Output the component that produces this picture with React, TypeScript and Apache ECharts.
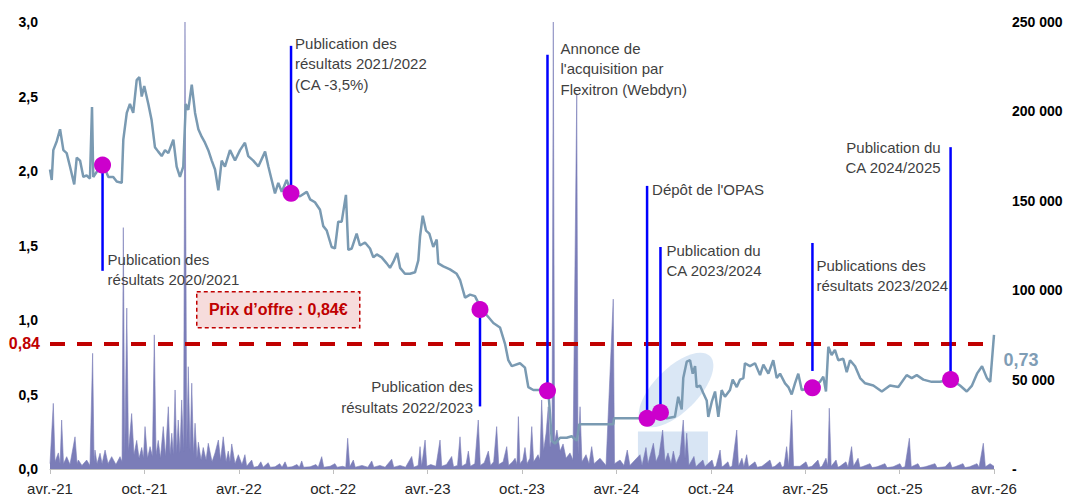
import React, { useEffect, useRef } from 'react';
import * as echarts from 'echarts';

// x values are months elapsed since avr.-21
const xTickLabels = ['avr.-21', 'oct.-21', 'avr.-22', 'oct.-22', 'avr.-23', 'oct.-23', 'avr.-24', 'oct.-24', 'avr.-25', 'oct.-25', 'avr.-26'];

const pricePoints: [number, number][] = [
  [0.00, 2.01], [0.11, 1.94], [0.21, 2.14], [0.43, 2.20], [0.64, 2.28], [0.85, 2.14], [1.06, 2.12], [1.27, 2.03],
  [1.54, 1.91], [1.70, 2.09], [1.91, 2.07], [2.12, 1.96], [2.33, 1.97], [2.54, 1.95], [2.67, 2.43], [2.75, 1.96],
  [3.07, 2.01], [3.39, 2.04], [3.71, 1.96], [4.02, 1.96], [4.24, 1.93], [4.56, 1.92], [4.66, 2.21], [4.88, 2.39],
  [5.08, 2.45], [5.29, 2.39], [5.51, 2.61], [5.68, 2.63], [5.83, 2.50], [5.99, 2.57], [6.25, 2.45], [6.46, 2.34],
  [6.67, 2.16], [6.88, 2.13], [7.10, 2.10], [7.31, 2.14], [7.52, 2.12], [7.84, 2.21], [8.05, 2.03], [8.26, 1.96],
  [8.47, 2.03], [8.63, 2.45], [8.79, 2.41], [9.01, 2.58], [9.22, 2.39], [9.43, 2.28], [9.64, 2.23], [9.85, 2.19],
  [10.06, 2.14], [10.28, 2.07], [10.49, 2.01], [10.70, 1.87], [10.91, 2.07], [11.12, 2.03], [11.44, 2.14], [11.76, 2.07],
  [12.08, 2.14], [12.39, 2.19], [12.60, 2.10], [12.92, 2.07], [13.24, 2.03], [13.67, 2.13], [13.88, 2.03], [14.09, 1.94],
  [14.30, 1.85], [14.51, 1.92], [14.73, 1.86], [15.04, 1.94], [15.36, 1.85],
  [15.89, 1.83], [16.32, 1.86], [16.53, 1.81], [16.84, 1.79], [17.16, 1.74], [17.37, 1.63], [17.59, 1.60], [17.90, 1.49],
  [18.11, 1.48], [18.32, 1.66], [18.54, 1.66], [18.81, 1.84], [18.96, 1.47], [19.18, 1.48], [19.49, 1.58], [19.70, 1.50],
  [20.02, 1.52], [20.34, 1.48], [20.55, 1.42], [20.77, 1.44], [21.08, 1.42], [21.40, 1.38], [21.61, 1.35], [21.82, 1.39],
  [22.07, 1.45], [22.25, 1.35], [22.56, 1.31], [22.88, 1.31], [23.20, 1.32], [23.41, 1.40], [23.52, 1.56], [23.69, 1.70],
  [23.90, 1.60], [24.11, 1.58], [24.36, 1.49], [24.58, 1.54], [24.68, 1.38], [25.00, 1.36], [25.42, 1.34], [25.85, 1.31],
  [26.06, 1.27], [26.38, 1.15], [26.70, 1.17], [27.01, 1.16], [27.44, 1.07], [27.86, 1.02], [28.18, 0.98], [28.60, 0.95],
  [28.92, 0.84], [29.13, 0.73], [29.35, 0.69], [29.87, 0.71], [30.19, 0.68], [30.40, 0.55], [30.72, 0.53], [31.14, 0.53],
  [31.67, 0.53],
  [31.78, 0.37], [31.89, 0.19], [32.10, 0.17], [32.42, 0.21], [32.84, 0.21], [33.16, 0.22], [33.48, 0.19], [33.64, 0.30],
  [34.64, 0.30], [35.80, 0.30], [35.85, 0.34], [36.67, 0.34], [37.50, 0.34], [37.96, 0.335], [38.33, 0.345], [38.77, 0.36],
  [39.20, 0.34], [39.72, 0.35], [39.93, 0.485], [40.15, 0.40], [40.25, 0.61], [40.47, 0.72], [40.68, 0.73], [40.85, 0.64],
  [41.00, 0.69], [41.10, 0.55], [41.31, 0.56], [41.52, 0.51], [41.74, 0.46], [41.84, 0.35], [42.06, 0.45], [42.27, 0.52],
  [42.48, 0.35], [42.69, 0.53], [42.90, 0.485], [43.22, 0.53], [43.39, 0.60], [43.65, 0.55], [43.86, 0.60], [44.07, 0.61],
  [44.17, 0.71], [44.49, 0.69], [44.81, 0.71], [45.13, 0.63], [45.34, 0.70], [45.66, 0.64], [45.97, 0.73], [46.19, 0.61],
  [46.40, 0.64], [46.72, 0.575], [46.93, 0.55], [47.14, 0.50], [47.35, 0.575], [47.56, 0.64], [47.78, 0.53], [48.48, 0.545],
  [48.94, 0.585], [49.15, 0.62], [49.32, 0.52], [49.47, 0.82], [49.68, 0.765], [49.89, 0.80], [50.10, 0.73], [50.42, 0.74],
  [50.64, 0.65], [50.85, 0.73], [51.17, 0.69], [51.49, 0.61], [51.81, 0.575], [52.33, 0.56], [52.87, 0.52], [53.39, 0.56],
  [53.92, 0.55], [54.45, 0.63], [54.77, 0.61], [55.09, 0.63], [55.51, 0.60], [56.04, 0.585], [56.57, 0.585], [57.27, 0.60],
  [57.84, 0.56], [58.27, 0.52], [58.60, 0.56], [58.92, 0.64], [59.24, 0.69], [59.55, 0.61], [59.76, 0.585], [60.00, 0.90],
];

const volume2021: [number, number][] = [
  [0.00, 3000], [0.21, 36700], [0.32, 4000], [0.53, 9000], [0.64, 3000], [0.74, 27400], [0.86, 3000], [1.06, 6900],
  [1.27, 2500], [1.59, 18000], [1.72, 3000], [1.80, 5000], [2.03, 2000], [2.33, 5000], [2.54, 2000], [2.71, 64700],
  [2.80, 4000], [2.86, 10600], [2.99, 3000], [3.18, 8800], [3.31, 3000], [3.50, 10600], [3.69, 3000], [3.92, 6900],
  [4.19, 2500], [4.45, 6900], [4.58, 4000], [4.66, 135000], [4.75, 8000], [4.88, 90000], [4.99, 10000], [5.19, 31000],
  [5.34, 8000], [5.51, 16000], [5.66, 6000], [5.83, 12000], [5.94, 6000], [6.04, 23700], [6.20, 6000], [6.36, 12500],
  [6.51, 7000], [6.63, 75000], [6.74, 8000], [6.88, 16000], [7.02, 6000], [7.20, 23700], [7.34, 7000], [7.52, 34800],
  [7.63, 8000], [7.74, 20000], [7.84, 8000], [7.95, 44200], [8.05, 9000], [8.15, 27400], [8.26, 9000], [8.37, 38600],
  [8.49, 10000], [8.58, 250000], [8.69, 12000], [8.79, 57200], [8.90, 10000], [9.01, 48000], [9.12, 8000], [9.22, 25600],
  [9.34, 6000], [9.43, 15000], [9.60, 5000], [9.74, 12000], [9.92, 5000], [10.06, 14400], [10.30, 4000], [10.49, 9000],
  [10.70, 16200], [10.84, 5000], [11.01, 18000], [11.19, 4000], [11.33, 10000], [11.44, 4000], [11.55, 14000], [11.76, 3000],
  [11.97, 8000], [12.20, 2500],
];

const volume2022_23: [number, number][] = [
  [12.39, 8000], [12.50, 1500], [12.82, 5000], [12.95, 1000], [13.22, 1500], [13.40, 4000], [13.55, 1000], [13.87, 3500],
  [14.00, 1000], [14.30, 1200], [14.60, 3000], [14.75, 1000], [14.94, 4000], [15.08, 1000], [15.38, 1200], [15.70, 2500],
  [15.85, 1000], [16.00, 4500], [16.12, 1000], [16.53, 1200], [16.90, 2500], [17.05, 1000], [17.27, 6900], [17.40, 1000],
  [17.80, 1500], [18.11, 3000], [18.25, 1000], [18.60, 1500], [18.80, 1000], [18.92, 17200], [19.05, 1200], [19.28, 5000],
  [19.40, 1000], [19.83, 2000], [20.20, 1000], [20.45, 4500], [20.58, 1000], [20.97, 2000], [21.30, 1000], [21.72, 5500],
  [21.85, 1000], [22.25, 2000], [22.60, 1000], [22.99, 7000], [23.12, 1000], [23.40, 2000], [23.52, 12500], [23.62, 1500],
  [23.84, 16200], [23.95, 1500], [24.20, 2500], [24.53, 1500], [24.79, 16200], [24.90, 1500], [25.20, 2500], [25.53, 7000],
  [25.65, 1200], [25.90, 2000], [26.06, 18000], [26.18, 1500], [26.45, 3000], [26.59, 10000], [26.72, 1500], [27.00, 3000],
  [27.22, 27400], [27.35, 2000], [27.60, 3500], [27.86, 10000], [28.00, 2000], [28.20, 4000], [28.39, 23700], [28.52, 2500],
  [28.80, 4000], [29.03, 12500], [29.15, 2000], [29.40, 4000], [29.56, 6000], [29.68, 2500], [29.77, 29300], [29.87, 3000],
  [30.05, 5000], [30.19, 12000], [30.32, 3000], [30.50, 6000], [30.62, 23700], [30.74, 4000], [31.02, 8000], [31.14, 5000],
  [31.25, 38600], [31.37, 10000], [31.53, 20000], [31.67, 34800], [31.78, 12000], [31.91, 20000], [31.99, 250000], [32.07, 15000],
  [32.22, 21800], [32.42, 10000], [32.61, 14000], [32.80, 6000], [33.05, 9000], [33.24, 5000], [33.48, 210000], [33.56, 8000],
  [33.69, 34800], [33.81, 4000], [34.07, 8000], [34.26, 3000], [34.43, 12500], [34.58, 3000], [34.96, 6000], [35.34, 2000],
  [35.80, 95000], [35.88, 3000], [36.23, 5000], [36.48, 2000], [36.69, 10600], [36.86, 2000], [37.18, 5000], [37.50, 8000],
  [37.63, 2000], [37.88, 12000], [38.01, 3000], [38.35, 14400], [38.52, 4000], [38.71, 8000], [38.94, 21800], [39.09, 4000],
  [39.28, 9000], [39.47, 3000], [39.62, 10000], [39.79, 3000], [40.04, 8000], [40.25, 27400], [40.36, 6000], [40.47, 20000],
];

const volume2024_26: [number, number][] = [
  [40.61, 2000], [40.93, 7000], [41.05, 1200], [41.19, 2500], [41.50, 5000], [41.62, 1200], [41.82, 3000], [42.08, 5000],
  [42.20, 1000], [42.33, 1500], [42.59, 10600], [42.70, 1200], [42.78, 1500], [43.09, 4000], [43.20, 1000], [43.35, 1500],
  [43.65, 21800], [43.76, 1500], [43.98, 6000], [44.10, 1200], [44.28, 8000], [44.40, 1200], [44.81, 4000], [44.95, 1000],
  [45.25, 1500], [45.76, 5000], [45.90, 1000], [46.08, 1500], [46.40, 4000], [46.52, 1000], [46.65, 1500], [46.82, 12500],
  [46.95, 1500], [47.14, 33000], [47.26, 1500], [47.67, 1500], [48.05, 4000], [48.18, 1000], [48.43, 1500], [48.81, 5000],
  [48.94, 1000], [49.07, 1500], [49.32, 6000], [49.44, 1500], [49.53, 34000], [49.65, 1500], [49.96, 5000], [50.08, 1000],
  [50.21, 1500], [50.59, 4000], [50.72, 1000], [50.95, 12500], [51.07, 1500], [51.36, 6000], [51.48, 1000], [51.61, 1200],
  [52.12, 3000], [52.25, 800], [52.56, 1200], [53.07, 3000], [53.20, 800], [53.58, 1200], [54.02, 3000], [54.15, 800],
  [54.34, 1200], [54.62, 17200], [54.74, 1200], [55.17, 3000], [55.30, 800], [55.62, 1200], [56.25, 3000], [56.38, 800],
  [56.89, 1200], [57.20, 4000], [57.33, 800], [57.52, 1200], [58.03, 3000], [58.15, 800], [58.44, 1200], [58.92, 3000],
  [59.05, 1000], [59.32, 14400], [59.45, 1200], [59.75, 3000], [60.00, 1500],
];

const eventMonths = [3.34, 15.32, 27.33, 31.62, 37.95, 38.8, 48.46, 57.24];
const eventDotPrices = [2.04, 1.85, 1.07, 0.525, 0.34, 0.38, 0.545, 0.6];
const eventLineFrom = [2.04, 1.85, 1.07, 0.525, 0.34, 0.38, 0.658, 0.6];
const eventLineTo = [1.33, 2.84, 0.42, 2.78, 1.9, 1.49, 1.517, 2.16];
const eventLabels = [
  'Publication des\nrésultats 2020/2021',
  'Publication des\nrésultats 2021/2022\n(CA -3,5%)',
  'Publication des\nrésultats 2022/2023',
  "Annonce de\nl'acquisition par\nFlexitron (Webdyn)",
  "Dépôt de l'OPAS",
  'Publication du\nCA 2023/2024',
  'Publications des\nrésultats 2023/2024',
  'Publication du\nCA 2024/2025',
];

const offerPrice = 0.84;
const lastPrice = 0.73;
const highlightCenter: [number, number] = [39.79, 0.53];
const highlightBandMonths: [number, number] = [37.37, 41.82];
const highlightBandVolume = 21000;

// layout of the event captions, relative to the top end of their line (px)
const eventLayout = [
  { dx: 5, dy: -22, align: 'left' },
  { dx: 4, dy: -13, align: 'left' },
  { dx: -7, dy: -30, align: 'right' },
  { dx: 13, dy: -17, align: 'left' },
  { dx: 5, dy: -7, align: 'left' },
  { dx: 6, dy: -7, align: 'left' },
  { dx: 4, dy: 12, align: 'left' },
  { dx: -10, dy: -10, align: 'right' },
];

const FONT = '"Liberation Sans", Arial, sans-serif';
const fmtComma = (v: number, d: number) => v.toFixed(d).replace('.', ',');
const fmtThousands = (v: number) => (v === 0 ? '-' : String(v).replace(/\B(?=(\d{3})+(?!\d))/g, ' '));

export default function App() {
  const ref = useRef<HTMLDivElement>(null);

  useEffect(() => {
    if (!ref.current) return;
    const chart = echarts.init(ref.current, null, { renderer: 'svg' });
    const volumePoints = [...volume2021, ...volume2022_23, ...volume2024_26];

    const option: any = {
      animation: false,
      backgroundColor: '#ffffff',
      grid: { left: 50, right: 76, top: 22, bottom: 28, containLabel: false, outerBoundsMode: 'none' },
      xAxis: {
        type: 'value',
        min: 0,
        max: 60,
        interval: 6,
        axisLine: { show: true, lineStyle: { color: '#bfbfbf', width: 1 } },
        axisTick: { show: true, length: 5, lineStyle: { color: '#bfbfbf' } },
        splitLine: { show: false },
        axisLabel: {
          showMinLabel: true,
          showMaxLabel: true,
          margin: 12,
          color: '#262626',
          fontSize: 15,
          fontFamily: FONT,
          formatter: (v: number) => xTickLabels[Math.round(v / 6)] ?? '',
        },
      },
      yAxis: [
        {
          type: 'value',
          min: 0,
          max: 3,
          interval: 0.5,
          position: 'left',
          axisLine: { show: false },
          axisTick: { show: false },
          splitLine: { show: false },
          axisLabel: {
            margin: 12,
            color: '#000',
            fontWeight: 'bold',
            fontSize: 14,
            fontFamily: FONT,
            formatter: (v: number) => fmtComma(v, 1),
          },
        },
        {
          type: 'value',
          min: 0,
          max: 250000,
          interval: 50000,
          position: 'right',
          axisLine: { show: false },
          axisTick: { show: false },
          splitLine: { show: false },
          axisLabel: {
            margin: 18,
            color: '#000',
            fontWeight: 'bold',
            fontSize: 14,
            fontFamily: FONT,
            formatter: (v: number) => fmtThousands(v),
          },
        },
      ],
      series: [
        {
          name: 'highlight',
          type: 'custom',
          coordinateSystem: 'cartesian2d',
          xAxisIndex: 0,
          yAxisIndex: 0,
          z: 1,
          silent: true,
          clip: false,
          data: [highlightCenter],
          renderItem: (_params: any, api: any) => {
            const c = api.coord([api.value(0), api.value(1)]);
            return {
              type: 'ellipse',
              x: c[0],
              y: c[1],
              rotation: Math.PI / 4,
              shape: { cx: 0, cy: 0, rx: 48, ry: 22 },
              style: { fill: 'rgba(206,223,242,0.75)' },
            };
          },
        },
        {
          name: 'Volume',
          type: 'line',
          yAxisIndex: 1,
          z: 2,
          data: volumePoints,
          showSymbol: false,
          symbol: 'none',
          lineStyle: { color: '#7b7db8', width: 0.6 },
          areaStyle: { color: '#7b7db8', opacity: 1 },
          markArea: {
            silent: true,
            itemStyle: { color: 'rgba(200,218,240,0.7)' },
            data: [[
              { xAxis: highlightBandMonths[0], yAxis: 0 },
              { xAxis: highlightBandMonths[1], yAxis: highlightBandVolume },
            ]],
          },
        },
        {
          name: 'Cours',
          type: 'line',
          yAxisIndex: 0,
          z: 3,
          data: pricePoints,
          showSymbol: false,
          symbol: 'none',
          lineStyle: { color: '#7a9ab2', width: 2.5 },
          markLine: {
            silent: true,
            symbol: ['none', 'none'],
            lineStyle: { color: '#c00000', width: 4, type: [15, 12] },
            label: {
              show: true,
              position: 'start',
              distance: 10,
              formatter: fmtComma(offerPrice, 2),
              color: '#c00000',
              fontWeight: 'bold',
              fontSize: 16,
              fontFamily: FONT,
            },
            data: [{ yAxis: offerPrice }],
          },
          markPoint: {
            silent: true,
            symbol: 'circle',
            symbolSize: 1,
            itemStyle: { color: 'rgba(0,0,0,0)' },
            label: {
              show: true,
              position: 'right',
              distance: 9,
              formatter: fmtComma(lastPrice, 2),
              color: '#7f9db5',
              fontWeight: 'bold',
              fontSize: 18,
              fontFamily: FONT,
            },
            data: [{ coord: [60, lastPrice] }],
          },
        },
        {
          name: 'events',
          type: 'custom',
          coordinateSystem: 'cartesian2d',
          xAxisIndex: 0,
          yAxisIndex: 0,
          z: 5,
          silent: true,
          clip: false,
          data: eventMonths.map((m, i) => [m, eventLineFrom[i], eventLineTo[i]]),
          renderItem: (params: any, api: any) => {
            const i = params.dataIndex;
            const m = api.value(0);
            const p1 = api.coord([m, api.value(1)]);
            const p2 = api.coord([m, api.value(2)]);
            const L = eventLayout[i];
            return {
              type: 'group',
              children: [
                {
                  type: 'line',
                  shape: { x1: p1[0], y1: p1[1], x2: p2[0], y2: p2[1] },
                  style: { stroke: '#0000ff', lineWidth: 2.5 },
                },
                {
                  type: 'text',
                  x: p2[0] + L.dx,
                  y: p2[1] + L.dy,
                  style: {
                    text: eventLabels[i],
                    fill: '#3f3f3f',
                    fontSize: 15,
                    fontFamily: FONT,
                    textAlign: L.align,
                    textVerticalAlign: 'top',
                    lineHeight: 20.5,
                  },
                },
              ],
            };
          },
        },
        {
          name: 'dots',
          type: 'scatter',
          yAxisIndex: 0,
          z: 10,
          silent: true,
          symbolSize: 17,
          itemStyle: { color: '#cc00cc', opacity: 1 },
          data: eventMonths.map((m, i) => [m, eventDotPrices[i]]),
        },
      ],
      graphic: [
        {
          type: 'group',
          left: 196,
          top: 291,
          children: [
            {
              type: 'rect',
              shape: { x: 0, y: 0, width: 163, height: 36 },
              style: { fill: '#f6dcdc', stroke: '#c00000', lineWidth: 1.5, lineDash: [4, 3] },
            },
            {
              type: 'text',
              x: 81.5,
              y: 18,
              style: {
                text: `Prix d’offre : ${fmtComma(offerPrice, 2)}€`,
                fill: '#c00000',
                fontSize: 16,
                fontWeight: 'bold',
                fontFamily: FONT,
                textAlign: 'center',
                textVerticalAlign: 'middle',
              },
            },
          ],
        },
      ],
    };

    chart.setOption(option);
    return () => chart.dispose();
  }, []);

  return (
    <div
      ref={ref}
      style={{ position: 'fixed', left: 0, top: 0, width: 1070, height: 497, background: '#fff' }}
    />
  );
}
